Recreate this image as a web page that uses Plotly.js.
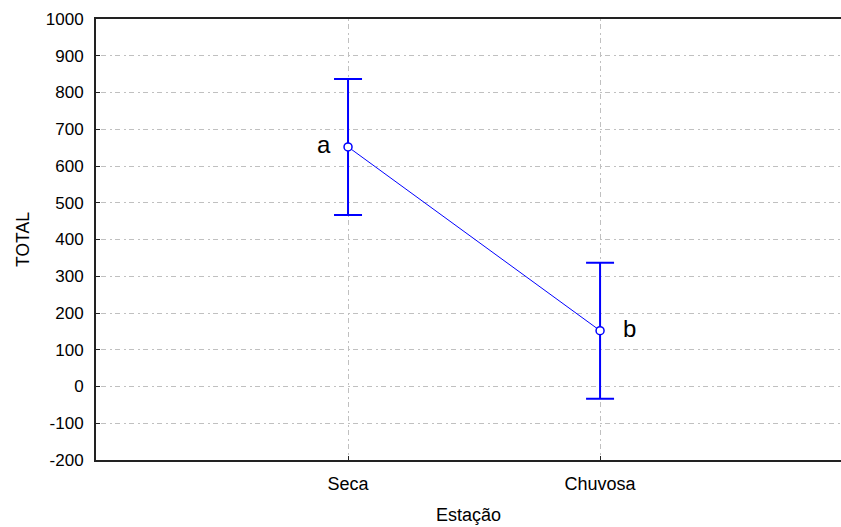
<!DOCTYPE html>
<html>
<head>
<meta charset="utf-8">
<script src="https://cdn.plot.ly/plotly-3.0.1.min.js"></script>
<style>html,body{margin:0;padding:0;background:#fff;}#chart{width:841px;height:527px;}</style>
</head>
<body>
<div id="chart"></div>
<script>
const categories = ['Seca', 'Chuvosa'];
const means = [652, 152];
const errors = [185, 185];
const groupLetters = ['a', 'b'];
const yTickVals = [-200, -100, 0, 100, 200, 300, 400, 500, 600, 700, 800, 900, 1000];
const yTickText = ['-200', '-100', '0', '100', '200', '300', '400', '500', '600', '700', '800', '900', '1000'];

const blue = '#0000ff';
const fam = 'Arial, "Liberation Sans", sans-serif';
const yFont = {family: fam, size: 17, color: '#000'};
const xFont = {family: fam, size: 18, color: '#000'};
const gridDash = '2px,3px,5px,4px';

const trace = {
  x: categories,
  y: means,
  type: 'scatter',
  mode: 'lines+markers',
  line: {color: blue, width: 1},
  marker: {symbol: 'circle', size: 8, color: '#fff', line: {color: blue, width: 1.5}},
  error_y: {type: 'data', array: errors, visible: true, color: blue, thickness: 2, width: 14},
  hoverinfo: 'skip'
};

const annotations = categories.map((c, i) => ({
  x: c, y: means[i], xref: 'x', yref: 'y',
  text: groupLetters[i], showarrow: false,
  font: {family: fam, size: 24, color: '#000'},
  xanchor: i === 0 ? 'right' : 'left',
  yanchor: 'middle',
  xshift: i === 0 ? -15 : 21,
  yshift: 2
}));

const layout = {
  width: 841, height: 527,
  margin: {l: 96, r: 0, t: 19, b: 67},
  paper_bgcolor: '#fff', plot_bgcolor: '#fff',
  showlegend: false,
  font: yFont,
  xaxis: {
    type: 'category',
    range: [-1, 1.956],
    showline: true, linecolor: '#222', linewidth: 2, mirror: true,
    ticks: 'inside', ticklen: 4, tickcolor: '#222', tickwidth: 1,
    ticklabelstandoff: 6,
    showgrid: true, gridcolor: '#c0c0c0', gridwidth: 1, griddash: gridDash,
    tickfont: xFont,
    title: {text: 'Estação', font: xFont, standoff: 16},
    zeroline: false, fixedrange: true
  },
  yaxis: {
    range: [-200, 1000],
    tickmode: 'array', tickvals: yTickVals, ticktext: yTickText,
    showline: true, linecolor: '#222', linewidth: 2, mirror: false,
    ticks: 'inside', ticklen: 4, tickcolor: '#222', tickwidth: 1,
    ticklabelstandoff: 7,
    showgrid: true, gridcolor: '#c0c0c0', gridwidth: 1, griddash: gridDash,
    tickfont: yFont,
    title: {text: 'TOTAL', font: {family: fam, size: 17.5, color: '#000'}, standoff: 12},
    zeroline: false, fixedrange: true
  },
  annotations: annotations
};

Plotly.newPlot('chart', [trace], layout, {displayModeBar: false, staticPlot: true});
</script>
</body>
</html>
